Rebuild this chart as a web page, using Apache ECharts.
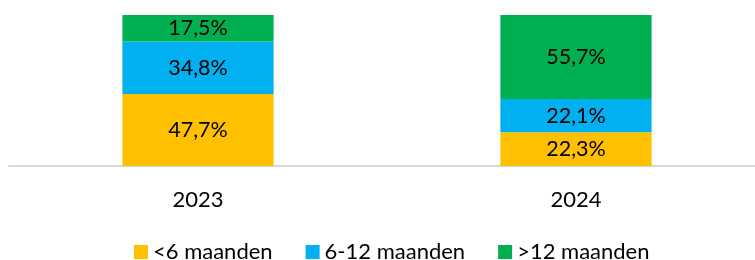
<!DOCTYPE html>
<html>
<head>
<meta charset="utf-8">
<script src="https://cdn.jsdelivr.net/npm/echarts@6/dist/echarts.min.js"></script>
<style>
  html, body { margin: 0; padding: 0; background: #fff; overflow: hidden; }
  /* a little wider than the window: the plot area runs past the right edge */
  #chart { width: 765px; height: 260px; }
</style>
</head>
<body>
<div id="chart"></div>
<script>
// categories and series values (percentages)
const years = ['2023', '2024'];
const seriesNames = ['<6 maanden', '6-12 maanden', '>12 maanden'];
const underSix = [47.7, 22.3];
const sixToTwelve = [34.8, 22.1];
const overTwelve = [17.5, 55.7];

const colors = ['#FFC000', '#00B0F0', '#00B050'];
const fontFamily = 'Lato, "Open Sans", sans-serif';

const chart = echarts.init(document.getElementById('chart'));

// format like 47,7%
const pct = (p) => p.value.toFixed(1).replace('.', ',') + '%';

const makeSeries = (name, data, color) => ({
  name: name,
  type: 'bar',
  stack: 'total',
  data: data,
  barWidth: '40%',
  itemStyle: { color: color },
  label: {
    show: true,
    position: 'inside',
    color: '#000',
    fontFamily: fontFamily,
    fontSize: 21.5,
    formatter: pct,
  },
});

const option = {
  animation: false,
  backgroundColor: '#fff',
  color: colors,
  grid: {
    left: 9,
    top: 15,
    width: 756,
    height: 151,
  },
  legend: {
    left: 134,
    top: 241,
    padding: 0,
    itemWidth: 14,
    itemHeight: 14,
    itemGap: 33,
    icon: 'rect',
    textStyle: {
      color: '#000',
      fontFamily: fontFamily,
      fontSize: 22,
      lineHeight: 22,
    },
    data: seriesNames,
  },
  xAxis: {
    type: 'category',
    data: years,
    axisLine: { lineStyle: { color: '#d9d9d9', width: 2 } },
    axisTick: { show: false },
    axisLabel: {
      color: '#000',
      fontFamily: fontFamily,
      fontSize: 22,
      margin: 23,
    },
  },
  yAxis: {
    type: 'value',
    min: 0,
    max: 100,
    show: false,
    splitLine: { show: false },
  },
  series: [
    makeSeries(seriesNames[0], underSix, colors[0]),
    makeSeries(seriesNames[1], sixToTwelve, colors[1]),
    makeSeries(seriesNames[2], overTwelve, colors[2]),
  ],
};

chart.setOption(option);
</script>
</body>
</html>
